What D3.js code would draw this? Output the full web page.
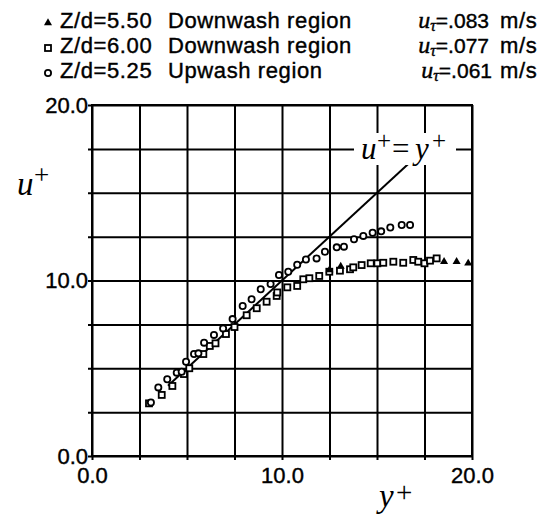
<!DOCTYPE html>
<html>
<head>
<meta charset="utf-8">
<script src="https://cdn.jsdelivr.net/npm/d3@7"></script>
<style>
  body { margin: 0; background: #fff; }
  svg { display: block; }
</style>
</head>
<body>
<div id="chart"></div>
<script>
// grid / tick values
const gridTicks = [0, 2.5, 5, 7.5, 10, 12.5, 15, 17.5, 20];
const labelTicks = [0, 10, 20];

// u+ = y+ reference line (y+ range)
const lawX = [4.0, 16.8];

// Z/d=5.25 upwash region (circles): [y+, u+]
const upwash = [
  [3.1, 3.05], [3.49, 3.91], [3.96, 4.37], [4.46, 4.75], [4.72, 4.8], [4.95, 5.37],
  [5.37, 5.81], [5.6, 5.85], [5.9, 6.46], [6.42, 6.9], [6.9, 7.27], [7.4, 7.8],
  [7.93, 8.55], [8.4, 8.93], [8.88, 9.5], [9.4, 9.8], [9.84, 10.31], [10.33, 10.5],
  [10.8, 10.9], [11.26, 11.2], [11.82, 11.26], [12.26, 11.64], [12.88, 11.89],
  [13.26, 11.93], [13.79, 12.35], [14.28, 12.54], [14.77, 12.72], [15.22, 12.8],
  [15.7, 13.02], [16.3, 13.16], [16.74, 13.16]
];

// Z/d=6.00 downwash region (squares)
const down600 = [
  [3.0, 3.0], [3.67, 3.48], [4.23, 3.99], [4.84, 4.67], [5.12, 5.0], [5.86, 5.81],
  [6.2, 6.27], [6.5, 6.42], [7.05, 6.95], [7.5, 7.35], [8.14, 8.02], [8.67, 8.42],
  [9.19, 8.79], [9.72, 9.12], [9.75, 9.32], [10.28, 9.61], [10.8, 9.69], [11.12, 10.07],
  [11.44, 10.13], [11.96, 10.26], [12.49, 10.5], [13.05, 10.56], [13.58, 10.64],
  [13.75, 10.75], [14.19, 10.88], [14.67, 10.98], [15.02, 10.98], [15.33, 11.01],
  [15.86, 11.07], [16.38, 11.01], [16.91, 11.17], [17.17, 11.07], [17.5, 10.98],
  [17.79, 11.13], [18.14, 11.26]
];

// Z/d=5.50 downwash region (triangles)
const down550 = [
  [12.5, 10.6], [13.09, 10.8], [18.53, 11.07], [19.19, 11.07], [19.8, 10.98]
];

const legendRows = [
  { marker: "tri", zd: "Z/d=5.50", region: "Downwash region", ut: "=.083", uEnd: 489 },
  { marker: "sq",  zd: "Z/d=6.00", region: "Downwash region", ut: "=.077", uEnd: 489 },
  { marker: "circ", zd: "Z/d=5.25", region: "Upwash region",  ut: "=.061", uEnd: 492 }
];

const W = 546, H = 515;
const mLeft = 92, mRight = 472, mTop = 105, mBottom = 456;

const svg = d3.select("#chart").append("svg")
  .attr("width", W).attr("height", H);

const x = d3.scaleLinear().domain([0, 20]).range([mLeft, mRight]);
const y = d3.scaleLinear().domain([0, 20]).range([mBottom, mTop]);

const sans = "'Liberation Sans', Arial, Helvetica, sans-serif";
const serif = "'Liberation Serif', 'Times New Roman', serif";

// grid lines (extend a bit outside the frame like ticks)
const gx = svg.append("g")
  .attr("transform", "translate(0," + (mBottom + 4) + ")")
  .call(d3.axisBottom(x).tickValues(gridTicks).tickSize(-(mBottom - mTop + 4)).tickFormat(""));
const gy = svg.append("g")
  .attr("transform", "translate(" + (mLeft - 4) + ",0)")
  .call(d3.axisLeft(y).tickValues(gridTicks).tickSize(-(mRight - mLeft + 4)).tickFormat(""));
[gx, gy].forEach(g => {
  g.select(".domain").remove();
  g.selectAll("line").attr("stroke", "#000").attr("stroke-width", 2);
});

svg.append("rect")
  .attr("x", mLeft).attr("y", mTop)
  .attr("width", mRight - mLeft).attr("height", mBottom - mTop)
  .attr("fill", "none").attr("stroke", "#000").attr("stroke-width", 2);

// tick labels
const lx = svg.append("g")
  .attr("transform", "translate(0," + mBottom + ")")
  .call(d3.axisBottom(x).tickValues(labelTicks).tickSize(0).tickPadding(11).tickFormat(d3.format(".1f")));
const ly = svg.append("g")
  .attr("transform", "translate(" + mLeft + ",0)")
  .call(d3.axisLeft(y).tickValues(labelTicks).tickSize(0).tickPadding(4).tickFormat(d3.format(".1f")));
[lx, ly].forEach(g => {
  g.select(".domain").remove();
  g.selectAll("text").attr("font-family", sans).attr("font-size", 22).attr("fill", "#000")
    .attr("stroke", "#000").attr("stroke-width", 0.4);
});

// u+ = y+ line
const line = d3.line().x(d => x(d)).y(d => y(d));
svg.append("path")
  .attr("d", line(lawX))
  .attr("fill", "none").attr("stroke", "#000").attr("stroke-width", 2);

// label with white backing
svg.append("rect")
  .attr("x", 354).attr("y", 133).attr("width", 102).attr("height", 32).attr("fill", "#fff");
const lab = svg.append("text")
  .attr("y", 159)
  .attr("font-family", serif).attr("font-size", 31);
lab.append("tspan").attr("x", 361).attr("font-style", "italic").text("u");
lab.append("tspan").attr("x", 377).attr("dy", -10).attr("font-size", 25).text("+");
lab.append("tspan").attr("x", 392).attr("dy", 10).text("=");
lab.append("tspan").attr("x", 415).attr("font-style", "italic").text("y");
lab.append("tspan").attr("x", 432).attr("dy", -10).attr("font-size", 25).text("+");

// axis titles
const yt = svg.append("text").attr("y", 195).attr("font-family", serif).attr("font-size", 33);
yt.append("tspan").attr("x", 17).attr("font-style", "italic").text("u");
yt.append("tspan").attr("x", 34).attr("dy", -11).attr("font-size", 27).text("+");

const xt = svg.append("text").attr("y", 507).attr("font-family", serif).attr("font-size", 33);
xt.append("tspan").attr("x", 379).attr("font-style", "italic").text("y");
xt.append("tspan").attr("x", 396).attr("dy", -5).attr("font-size", 29).text("+");

// markers
function drawMarker(g, type, cx, cy) {
  if (type === "circ") {
    g.append("circle").attr("cx", cx).attr("cy", cy).attr("r", 3.1)
      .attr("fill", "#fff").attr("stroke", "#000").attr("stroke-width", 1.8);
  } else if (type === "sq") {
    g.append("rect").attr("x", cx - 3).attr("y", cy - 3).attr("width", 6).attr("height", 6)
      .attr("fill", "#fff").attr("stroke", "#000").attr("stroke-width", 1.8);
  } else {
    g.append("path").attr("transform", "translate(" + cx + "," + cy + ")")
      .attr("d", d3.symbol(d3.symbolTriangle, 28)())
      .attr("fill", "#000");
  }
}

const pts = svg.append("g");
down600.forEach(d => drawMarker(pts, "sq", x(d[0]), y(d[1])));
down550.forEach(d => drawMarker(pts, "tri", x(d[0]), y(d[1])));
upwash.forEach(d => drawMarker(pts, "circ", x(d[0]), y(d[1])));

// legend
const leg = svg.append("g");
legendRows.forEach((r, i) => {
  const base = 28 + i * 25;
  drawMarker(leg, r.marker, 48, base - 5);
  const txt = (xx, s) => leg.append("text").attr("x", xx).attr("y", base)
    .attr("font-family", sans).attr("font-size", 22).attr("letter-spacing", 0.6)
    .attr("stroke", "#000").attr("stroke-width", 0.4).text(s);
  txt(60, r.zd);
  txt(168, r.region);
  const t = leg.append("text").attr("x", r.uEnd).attr("y", base)
    .attr("text-anchor", "end")
    .attr("font-family", sans).attr("font-size", 21)
    .attr("stroke", "#000").attr("stroke-width", 0.4);
  t.append("tspan").attr("font-family", serif).attr("font-style", "italic").attr("font-size", 24).text("u");
  t.append("tspan").attr("font-family", serif).attr("font-style", "italic").attr("font-size", 16).attr("dy", 3).text("τ");
  t.append("tspan").attr("dy", -3).text(r.ut);
  txt(500, "m/s");
});
</script>
</body>
</html>
